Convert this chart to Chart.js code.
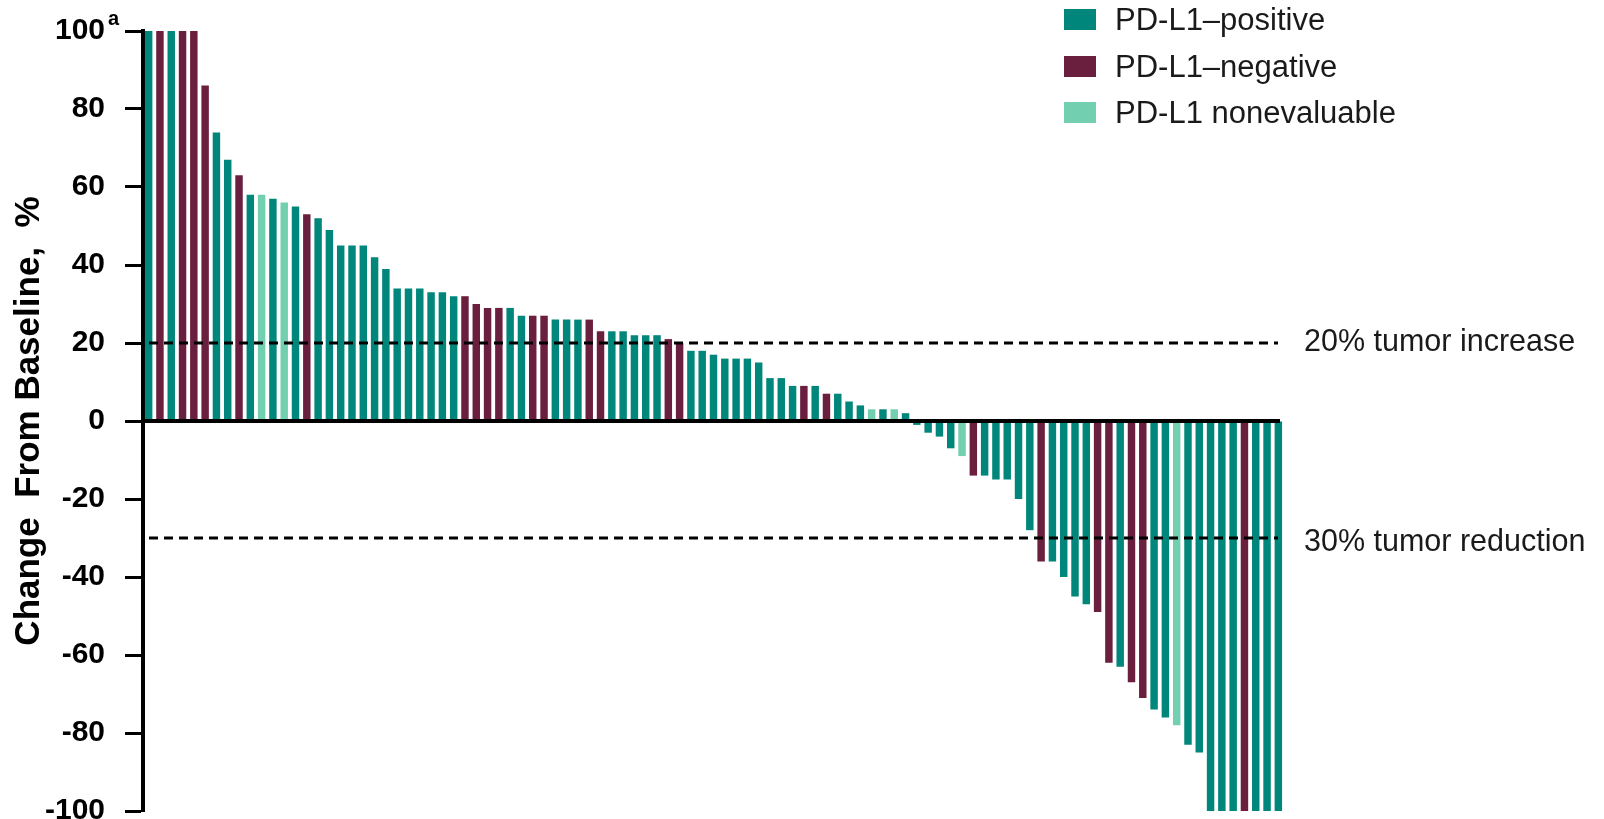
<!DOCTYPE html>
<html>
<head>
<meta charset="utf-8">
<script src="https://cdn.jsdelivr.net/npm/chart.js@4.4.1/dist/chart.umd.min.js"></script>
<style>
  html, body { margin: 0; padding: 0; background: #fff; }
  #wrap { position: relative; width: 1604px; height: 819px; overflow: hidden; }
  #legend { position: absolute; left: 1064px; top: 0; font-family: "Liberation Sans", Arial, sans-serif; font-size: 31px; color: #1a1a1a; }
  .item { position: absolute; left: 0; white-space: nowrap; height: 34px; line-height: 34px; }
  .sw { position: absolute; left: 0; top: 6px; width: 32px; height: 21px; }
  .lab { position: absolute; left: 51px; top: 0; }
</style>
</head>
<body>
<div id="wrap">
  <canvas id="c" width="1604" height="819"></canvas>
  <div id="legend"></div>
</div>
<script>
const values = [
  100, 100, 100, 100, 100, 86, 74, 67, 63, 58,
  58, 57, 56, 55, 53, 52, 49, 45, 45, 45,
  42, 39, 34, 34, 34, 33, 33, 32, 32, 30,
  29, 29, 29, 27, 27, 27, 26, 26, 26, 26,
  23, 23, 23, 22, 22, 22, 21, 20, 18, 18,
  17, 16, 16, 16, 15, 11, 11, 9, 9, 9,
  7, 7, 5, 4, 3, 3, 3, 2, -1, -3,
  -4, -7, -9, -14, -14, -15, -15, -20, -28, -36,
  -36, -40, -45, -47, -49, -62, -63, -67, -71, -74,
  -76, -78, -83, -85, -100, -100, -100, -100, -100, -100,
  -100
];
// P = PD-L1-positive, N = PD-L1-negative, E = PD-L1 nonevaluable
const status = [
  'P','N','P','N','N','N','P','P','N','P',
  'E','P','E','P','N','P','P','P','P','P',
  'P','P','P','P','P','P','P','P','N','N',
  'N','N','P','P','N','N','P','P','P','N',
  'N','P','P','P','P','P','N','N','P','P',
  'P','P','P','P','P','P','P','P','N','P',
  'N','P','P','P','E','P','E','P','P','P',
  'P','P','E','N','P','P','P','P','P','N',
  'P','P','P','P','N','N','P','N','N','P',
  'P','E','P','P','P','P','P','N','P','P',
  'P'
];
const groupCodes = ['P', 'N', 'E'];
const groupNames = ['PD-L1\u2013positive', 'PD-L1\u2013negative', 'PD-L1 nonevaluable'];
const groupColors = ['#00867A', '#6A1F3F', '#72CFAF'];
const yTicks = [100, 80, 60, 40, 20, 0, -20, -40, -60, -80, -100];
const refLines = [20, -30];
const refLabels = ['20% tumor increase', '30% tumor reduction'];
const yTitle = 'Change  From Baseline,  %';

const patients = values.map((_, i) => 'Pt ' + (i + 1));

const FONT = '"Liberation Sans", Arial, Helvetica, sans-serif';

// legend (HTML, real text)
const legend = document.getElementById('legend');
const rowTops = [3, 50, 96];
groupNames.forEach((name, i) => {
  const d = document.createElement('div');
  d.className = 'item';
  d.style.top = rowTops[i] + 'px';
  d.innerHTML = '<span class="sw" style="background:' + groupColors[i] + '"></span><span class="lab"></span>';
  d.querySelector('.lab').textContent = name;
  legend.appendChild(d);
});

const datasets = groupCodes.map((code, gi) => ({
  label: groupNames[gi],
  data: values.map((v, i) => status[i] === code ? v : null),
  backgroundColor: groupColors[gi],
  borderWidth: 0,
  grouped: false,
  barPercentage: 0.66,
  categoryPercentage: 1.0
}));

const overlay = {
  id: 'overlay',
  afterDatasetsDraw(chart) {
    const { ctx, chartArea, scales } = chart;
    const y = scales.y;
    ctx.save();
    // dashed reference lines and their labels
    ctx.setLineDash([9, 6]);
    ctx.lineWidth = 2.8;
    ctx.strokeStyle = '#000';
    refLines.forEach((v, i) => {
      const py = y.getPixelForValue(v);
      ctx.beginPath();
      ctx.moveTo(chartArea.left + 6, py);
      ctx.lineTo(chartArea.right - 6, py);
      ctx.stroke();
      ctx.fillStyle = '#1a1a1a';
      ctx.font = '30.5px ' + FONT;
      ctx.textAlign = 'left';
      ctx.textBaseline = 'middle';
      ctx.fillText(refLabels[i], chartArea.right + 20, py + (v < 0 ? 5 : 0));
    });
    ctx.setLineDash([]);
    // zero line
    const p0 = y.getPixelForValue(0);
    ctx.lineWidth = 4;
    ctx.strokeStyle = '#000';
    ctx.beginPath();
    ctx.moveTo(chartArea.left, p0);
    ctx.lineTo(chartArea.right - 4, p0);
    ctx.stroke();
    // superscript "a" after the top tick label
    const pTop = y.getPixelForValue(100);
    ctx.fillStyle = '#000';
    ctx.font = 'bold 20px ' + FONT;
    ctx.textAlign = 'left';
    ctx.textBaseline = 'alphabetic';
    ctx.fillText('a', y.right - 35, pTop - 6);
    ctx.restore();
  }
};

new Chart(document.getElementById('c'), {
  type: 'bar',
  data: { labels: patients, datasets },
  options: {
    responsive: false,
    animation: false,
    devicePixelRatio: 1,
    layout: { padding: { top: 31, bottom: 8, left: 0, right: 320 } },
    plugins: { legend: { display: false }, tooltip: { enabled: false } },
    scales: {
      x: { display: false, offset: true },
      y: {
        min: -100, max: 100,
        afterBuildTicks(scale) { scale.ticks = yTicks.map(v => ({ value: v })); },
        afterFit(scale) { scale.width = 143; scale.paddingTop = 0; scale.paddingBottom = 0; },
        ticks: {
          padding: 20,
          color: '#000',
          font: { family: FONT, size: 30, weight: 'bold' },
          callback: v => String(v)
        },
        grid: { drawOnChartArea: false, drawTicks: true, tickLength: 18, tickWidth: 3, tickColor: '#000' },
        border: { display: true, color: '#000', width: 4 },
        title: {
          display: true,
          text: yTitle,
          color: '#000',
          font: { family: FONT, size: 35, weight: 'bold' },
          padding: { top: 8, bottom: 0 },
          align: 'center'
        }
      }
    }
  },
  plugins: [overlay]
});
</script>
</body>
</html>
